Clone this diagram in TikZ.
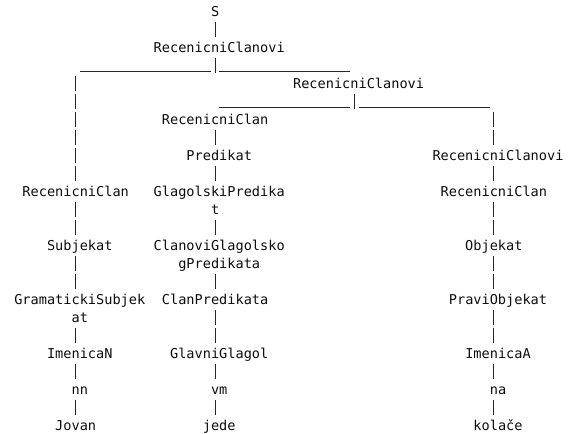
\documentclass[tikz,border=0pt]{standalone}
\usepackage{fontspec}
\setmonofont{DejaVu Sans Mono}

\tikzset{
  lbl/.style={anchor=base,inner sep=0pt,text=black!95,font=\ttfamily\fontsize{13.6}{16}\selectfont},
  vbar/.style={draw=black!85,line width=1pt,dash pattern=on 14.5pt off 3.5pt,shorten <=6pt,shorten >=15.5pt},
  uline/.style={draw=black!85,line width=0.9pt,shorten <=4.1pt,shorten >=4.1pt,transform canvas={yshift=-1.7pt}}
}

\begin{document}
\begin{tikzpicture}[x=8.2pt,y=-18pt]
    \useasboundingbox (-9.232,-0.889) rectangle (60.402,23.222);

    % columns of the bars
    \coordinate (cL) at (0,0);
    \coordinate (cM) at (17,0);
    \coordinate (cX) at (34,0);
    \coordinate (cR) at (51,0);
    \coordinate (j1) at (17,3);
    \coordinate (j2) at (34,5);

    \node[lbl] (s)   at (17,0)   {S};
    \node[lbl] (rc0) at (17.5,2) {RecenicniClanovi};
    \node[lbl] (rc1) at (34.5,4) {RecenicniClanovi};

    \node[lbl] (rcl)   at (0,10)   {RecenicniClan};
    \node[lbl] (subj)  at (0.5,13) {Subjekat};
    \node[lbl] (gsub1) at (0.5,16) {GramatickiSubjek};
    \node[lbl] (gsub2) at (0.5,17) {at};
    \node[lbl] (imn)   at (0.5,19) {ImenicaN};
    \node[lbl] (nn)    at (0.5,21) {nn};
    \node[lbl] (jovan) at (0,23)   {Jovan};

    \node[lbl] (rcm)    at (17,6)    {RecenicniClan};
    \node[lbl] (pred)   at (17.5,8)  {Predikat};
    \node[lbl] (gpred1) at (17.5,10) {GlagolskiPredika};
    \node[lbl] (gpred2) at (17,11)   {t};
    \node[lbl] (cgp1)   at (17.5,13) {ClanoviGlagolsko};
    \node[lbl] (cgp2)   at (17.5,14) {gPredikata};
    \node[lbl] (cpred)  at (17,16)   {ClanPredikata};
    \node[lbl] (glg)    at (17.5,19) {GlavniGlagol};
    \node[lbl] (vm)     at (17.5,21) {vm};
    \node[lbl] (jede)   at (17.5,23) {jede};

    \node[lbl] (rcr)    at (51.5,8)  {RecenicniClanovi};
    \node[lbl] (rcn)    at (51,10)   {RecenicniClan};
    \node[lbl] (obj)    at (51,13)   {Objekat};
    \node[lbl] (pobj)   at (51.5,16) {PraviObjekat};
    \node[lbl] (ima)    at (51.5,19) {ImenicaA};
    \node[lbl] (na)     at (51.5,21) {na};
    \node[lbl] (kolace) at (51.5,23) {kolače};

    % splits
    \draw[vbar] (cM |- s.base) -- (cM |- rc0.base);
    \draw[vbar,shorten >=-2.5pt] (cM |- rc0.base) -- (j1);
    \draw[uline] (j1) -- (cL |- j1);
    \draw[uline] (j1) -- (cX |- j1);
    \draw[vbar,shorten >=-2.5pt] (cX |- rc1.base) -- (j2);
    \draw[uline] (j2) -- (cM |- j2);
    \draw[uline] (j2) -- (cR |- j2);

    % left
    \draw[vbar] (cL |- j1) -- (cL |- rcl.base);
    \draw[vbar] (cL |- rcl.base) -- (cL |- subj.base);
    \draw[vbar] (cL |- subj.base) -- (cL |- gsub1.base);
    \draw[vbar] (cL |- gsub2.base) -- (cL |- imn.base);
    \draw[vbar] (cL |- imn.base) -- (cL |- nn.base);
    \draw[vbar] (cL |- nn.base) -- (cL |- jovan.base);

    % middle
    \draw[vbar] (cM |- rcm.base) -- (cM |- pred.base);
    \draw[vbar] (cM |- pred.base) -- (cM |- gpred1.base);
    \draw[vbar] (cM |- gpred2.base) -- (cM |- cgp1.base);
    \draw[vbar] (cM |- cgp2.base) -- (cM |- cpred.base);
    \draw[vbar] (cM |- cpred.base) -- (cM |- glg.base);
    \draw[vbar] (cM |- glg.base) -- (cM |- vm.base);
    \draw[vbar] (cM |- vm.base) -- (cM |- jede.base);

    % right
    \draw[vbar] (cR |- j2) -- (cR |- rcr.base);
    \draw[vbar] (cR |- rcr.base) -- (cR |- rcn.base);
    \draw[vbar] (cR |- rcn.base) -- (cR |- obj.base);
    \draw[vbar] (cR |- obj.base) -- (cR |- pobj.base);
    \draw[vbar] (cR |- pobj.base) -- (cR |- ima.base);
    \draw[vbar] (cR |- ima.base) -- (cR |- na.base);
    \draw[vbar] (cR |- na.base) -- (cR |- kolace.base);
\end{tikzpicture}
\end{document}
